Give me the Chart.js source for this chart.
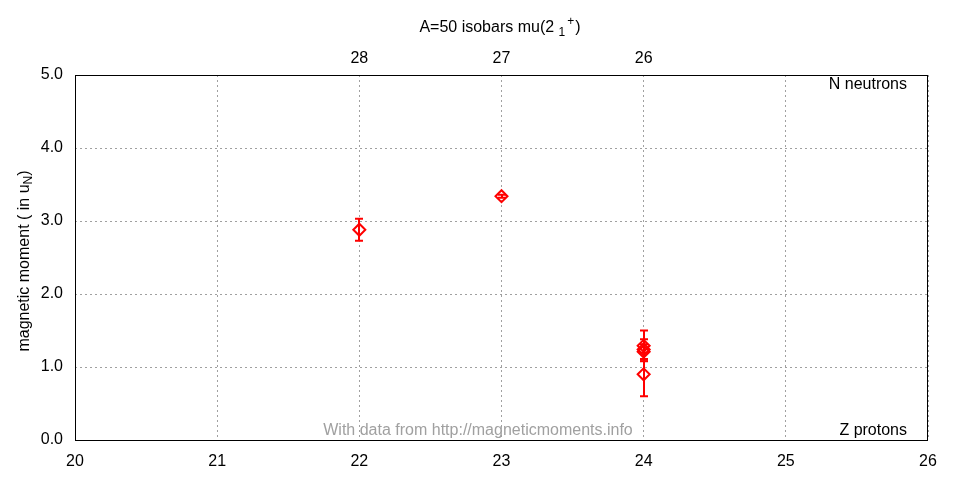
<!DOCTYPE html>
<html>
<head>
<meta charset="utf-8">
<script src="https://cdn.jsdelivr.net/npm/chart.js@4"></script>
<style>
  html, body { margin: 0; padding: 0; background: #fff; }
  #wrap { width: 960px; height: 480px; }
</style>
</head>
<body>
<div id="wrap"><canvas id="mu"></canvas></div>
<script>
// A=50 isobars, first 2+ state magnetic moments
const protonZ = [22, 23, 24, 24, 24, 24];
const moments = [2.88, 3.34, 1.29, 1.24, 1.21, 0.90];
const momentErr = [0.15, 0.02, 0.21, 0.14, 0.10, 0.30];

const xTicks = [20, 21, 22, 23, 24, 25, 26];
const yTicks = [0, 1, 2, 3, 4, 5];
const topTicks = [22, 23, 24];
const topLabels = ["28", "27", "26"];

const FONT = "'Liberation Sans', Arial, sans-serif";
const SIZE = 16;
const SMALL = 12;
const RED = "#ff0000";

const fixedTicks = (vals) => (scale) => {
  scale.ticks = vals.map((v) => ({ value: v }));
};

const chrome = {
  id: "chrome",
  beforeDatasetsDraw(chart) {
    const { ctx, chartArea: a } = chart;
    ctx.save();
    ctx.strokeStyle = "#000";
    ctx.lineWidth = 1;
    ctx.strokeRect(a.left + 0.5, a.top + 0.5, a.right - a.left - 1, a.bottom - a.top);
    ctx.restore();
  },
  afterDatasetsDraw(chart) {
    const { ctx } = chart;
    const xs = chart.scales.x, ys = chart.scales.y;
    ctx.save();
    ctx.strokeStyle = RED;
    ctx.lineWidth = 2;
    protonZ.forEach((z, i) => {
      const px = Math.round(xs.getPixelForValue(z));
      const hi = ys.getPixelForValue(moments[i] + momentErr[i]);
      const lo = ys.getPixelForValue(moments[i] - momentErr[i]);
      ctx.beginPath();
      ctx.moveTo(px, hi); ctx.lineTo(px, lo);
      ctx.moveTo(px - 4, hi); ctx.lineTo(px + 4, hi);
      ctx.moveTo(px - 4, lo); ctx.lineTo(px + 4, lo);
      ctx.stroke();
    });
    ctx.restore();
  },
  afterDraw(chart) {
    const { ctx } = chart;
    const big = SIZE + "px " + FONT, small = SMALL + "px " + FONT;
    ctx.save();
    ctx.fillStyle = "#000";
    ctx.font = big;
    ctx.textBaseline = "middle";

    // title with sub/superscript
    const base = "A=50 isobars mu(2 ";
    ctx.textAlign = "left";
    const wBase = ctx.measureText(base).width;
    ctx.font = small;
    const wSub = ctx.measureText("1").width;
    const wSup = ctx.measureText("+").width;
    ctx.font = big;
    const wEnd = ctx.measureText(")").width;
    let tx = 500 - (wBase + wSub + wSup + 3 + wEnd) / 2;
    const ty = 28;
    ctx.fillText(base, tx, ty); tx += wBase;
    ctx.font = small;
    ctx.fillText("1", tx, ty + 5); tx += wSub + 2;
    ctx.fillText("+", tx, ty - 6); tx += wSup + 1;
    ctx.font = big;
    ctx.fillText(")", tx, ty);

    // axis corner labels
    ctx.textAlign = "right";
    ctx.fillText("N neutrons", 907, 85);
    ctx.fillText("Z protons", 907, 431);

    ctx.textAlign = "center";
    ctx.fillStyle = "#a0a0a0";
    ctx.fillText("With data from http://magneticmoments.info", 478, 431);

    // y axis title
    ctx.fillStyle = "#000";
    ctx.translate(25, 261);
    ctx.rotate(-Math.PI / 2);
    const main = "magnetic moment ( in u";
    const wMain = ctx.measureText(main).width;
    ctx.font = small;
    const wN = ctx.measureText("N").width;
    ctx.font = big;
    const wClose = ctx.measureText(")").width;
    let lx = -(wMain + wN + wClose) / 2;
    ctx.textAlign = "left";
    ctx.fillText(main, lx, 0); lx += wMain;
    ctx.font = small;
    ctx.fillText("N", lx, 4); lx += wN;
    ctx.font = big;
    ctx.fillText(")", lx, 0);
    ctx.restore();
  },
};

const gridStyle = { color: "#a0a0a0", lineWidth: 1, drawTicks: false, borderDash: [2, 3] };
const tickFont = { family: FONT, size: SIZE };

new Chart(document.getElementById("mu"), {
  type: "scatter",
  data: {
    datasets: [
      {
        data: protonZ.map((z, i) => ({ x: z, y: moments[i] })),
        pointStyle: "rectRot",
        pointRadius: 6,
        pointBorderWidth: 2,
        pointBorderColor: RED,
        pointBackgroundColor: "rgba(0,0,0,0)",
        pointHoverRadius: 6,
      },
    ],
  },
  options: {
    responsive: true,
    maintainAspectRatio: false,
    animation: false,
    layout: { padding: 0 },
    plugins: { legend: { display: false }, tooltip: { enabled: false } },
    scales: {
      x: {
        type: "linear",
        position: "bottom",
        min: 20,
        max: 26,
        afterBuildTicks: fixedTicks(xTicks),
        afterFit: (s) => { s.height = 40; },
        grid: gridStyle,
        border: { display: false, dash: [2, 3] },
        ticks: { color: "#000", font: tickFont, padding: 12, maxRotation: 0 },
      },
      x2: {
        type: "linear",
        position: "top",
        min: 20,
        max: 26,
        afterBuildTicks: fixedTicks(topTicks),
        afterFit: (s) => { s.height = 75; },
        grid: { display: false, drawTicks: false },
        border: { display: false },
        ticks: {
          color: "#000",
          font: tickFont,
          padding: 7,
          maxRotation: 0,
          callback: (v) => topLabels[topTicks.indexOf(v)] ?? "",
        },
      },
      y: {
        type: "linear",
        position: "left",
        min: 0,
        max: 5,
        afterBuildTicks: fixedTicks(yTicks),
        afterFit: (s) => { s.width = 75; },
        grid: gridStyle,
        border: { display: false, dash: [2, 3] },
        ticks: { color: "#000", font: tickFont, padding: 12, callback: (v) => v.toFixed(1) },
      },
      y2: {
        type: "linear",
        position: "right",
        min: 0,
        max: 5,
        afterFit: (s) => { s.width = 32; },
        grid: { display: false },
        border: { display: false },
        ticks: { display: false },
      },
    },
  },
  plugins: [chrome],
});
</script>
</body>
</html>
